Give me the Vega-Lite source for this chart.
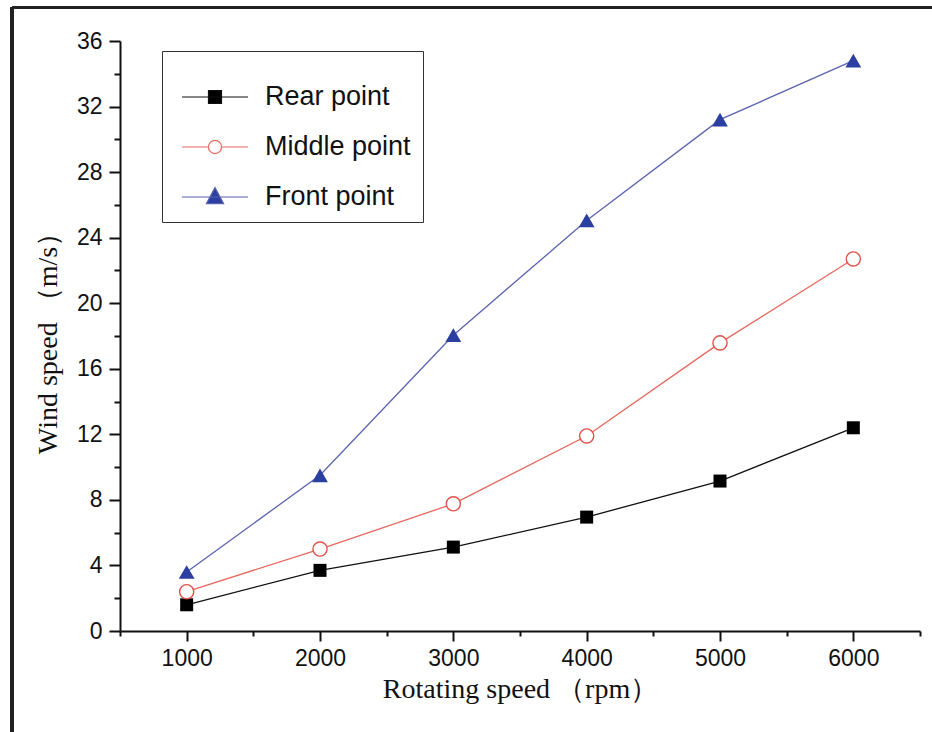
{
  "$schema": "https://vega.github.io/schema/vega-lite/v6.json",
  "width": 800,
  "height": 590,
  "autosize": {"type": "none"},
  "padding": {"left": 120, "top": 41, "right": 12, "bottom": 101},
  "background": "white",
  "config": {
    "view": {"stroke": null},
    "axis": {
      "grid": false,
      "domainColor": "#111111",
      "domainWidth": 2,
      "tickColor": "#111111",
      "tickWidth": 2,
      "labelFlush": false,
      "labelFont": "Liberation Sans",
      "labelFontSize": 23,
      "labelColor": "#111111",
      "titleFont": "Liberation Serif",
      "titleFontSize": 28,
      "titleFontWeight": "normal",
      "titleColor": "#111111"
    }
  },
  "resolve": {"axis": {"x": "independent", "y": "independent"}},
  "data": {
    "values": [
      {"series": "Rear point", "rpm": 1000, "speed": 1.6},
      {"series": "Rear point", "rpm": 2000, "speed": 3.7},
      {"series": "Rear point", "rpm": 3000, "speed": 5.12},
      {"series": "Rear point", "rpm": 4000, "speed": 6.95},
      {"series": "Rear point", "rpm": 5000, "speed": 9.15},
      {"series": "Rear point", "rpm": 6000, "speed": 12.4},
      {"series": "Middle point", "rpm": 1000, "speed": 2.4},
      {"series": "Middle point", "rpm": 2000, "speed": 5.0},
      {"series": "Middle point", "rpm": 3000, "speed": 7.76},
      {"series": "Middle point", "rpm": 4000, "speed": 11.9},
      {"series": "Middle point", "rpm": 5000, "speed": 17.58},
      {"series": "Middle point", "rpm": 6000, "speed": 22.7},
      {"series": "Front point", "rpm": 1000, "speed": 3.6},
      {"series": "Front point", "rpm": 2000, "speed": 9.5},
      {"series": "Front point", "rpm": 3000, "speed": 18.05},
      {"series": "Front point", "rpm": 4000, "speed": 25.05},
      {"series": "Front point", "rpm": 5000, "speed": 31.2},
      {"series": "Front point", "rpm": 6000, "speed": 34.8}
    ]
  },
  "layer": [
    {
      "mark": {"type": "line", "strokeWidth": 1.3},
      "encoding": {
        "x": {
          "field": "rpm",
          "type": "quantitative",
          "scale": {"domain": [500, 6500], "nice": false, "zero": false},
          "axis": {
            "orient": "bottom",
            "title": "Rotating speed （rpm）",
            "values": [1000, 2000, 3000, 4000, 5000, 6000],
            "format": "d",
            "tickSize": 10,
            "labelPadding": 6,
            "titlePadding": 5
          }
        },
        "y": {
          "field": "speed",
          "type": "quantitative",
          "scale": {"domain": [0, 36], "nice": false},
          "axis": {
            "orient": "left",
            "title": "Wind speed （m/s）",
            "values": [0, 4, 8, 12, 16, 20, 24, 28, 32, 36],
            "tickSize": 11,
            "labelPadding": 7,
            "titlePadding": 14
          }
        },
        "color": {
          "field": "series",
          "type": "nominal",
          "scale": {"domain": ["Rear point", "Middle point", "Front point"], "range": ["#111111", "#e8675d", "#5b63b0"]},
          "legend": {
            "title": null,
            "orient": "none",
            "legendX": 42,
            "legendY": 10,
            "strokeColor": "#333333",
            "fillColor": "white",
            "padding": 12,
            "symbolSize": 4356,
            "symbolStrokeWidth": 1.2,
            "symbolOpacity": 1,
            "symbolOffset": 7,
            "labelOffset": 16,
            "labelFont": "Liberation Sans",
            "labelFontSize": 27,
            "labelColor": "#111111",
            "labelLimit": 400,
            "rowPadding": 3
          }
        }
      }
    },
    {
      "transform": [{"filter": "datum.series === 'Rear point'"}],
      "mark": {"type": "point", "shape": "square", "filled": true, "color": "#000000", "size": 169, "opacity": 1},
      "encoding": {
        "x": {"field": "rpm", "type": "quantitative", "axis": null},
        "y": {"field": "speed", "type": "quantitative", "axis": null}
      }
    },
    {
      "transform": [{"filter": "datum.series === 'Middle point'"}],
      "mark": {"type": "point", "shape": "circle", "filled": false, "fill": "white", "stroke": "#e0524a", "strokeWidth": 1.4, "size": 200, "opacity": 1},
      "encoding": {
        "x": {"field": "rpm", "type": "quantitative", "axis": null},
        "y": {"field": "speed", "type": "quantitative", "axis": null}
      }
    },
    {
      "transform": [{"filter": "datum.series === 'Front point'"}],
      "mark": {"type": "point", "shape": "triangle-up", "filled": true, "color": "#2a3fa0", "size": 250, "opacity": 1},
      "encoding": {
        "x": {"field": "rpm", "type": "quantitative", "axis": null},
        "y": {"field": "speed", "type": "quantitative", "axis": null}
      }
    },
    {
      "mark": {"type": "point", "opacity": 0, "size": 10},
      "encoding": {
        "x": {
          "field": "rpm",
          "type": "quantitative",
          "axis": {
            "orient": "bottom",
            "title": null,
            "values": [500, 1500, 2500, 3500, 4500, 5500, 6500],
            "labels": false,
            "domain": false,
            "tickSize": 5
          }
        },
        "y": {
          "field": "speed",
          "type": "quantitative",
          "axis": {
            "orient": "left",
            "title": null,
            "values": [2, 6, 10, 14, 18, 22, 26, 30, 34],
            "labels": false,
            "domain": false,
            "tickSize": 6
          }
        },
        "shape": {
          "field": "series",
          "type": "nominal",
          "scale": {
            "domain": ["Rear point", "Middle point", "Front point"],
            "range": [
              "M-1,0H1M-0.197,-0.197H0.197V0.197H-0.197Z",
              "M-1,0H-0.2M0.2,0H1M-0.2,0A0.2,0.2,0,1,0,0.2,0A0.2,0.2,0,1,0,-0.2,0Z",
              "M-1,0H1M0,-0.29L0.26,0.2H-0.26Z"
            ]
          },
          "legend": {
            "title": null,
            "orient": "none",
            "legendX": 42,
            "legendY": 10,
            "strokeColor": "#333333",
            "fillColor": "white",
            "padding": 12,
            "symbolSize": 4356,
            "symbolStrokeWidth": 1.2,
            "symbolOpacity": 1,
            "symbolOffset": 7,
            "labelOffset": 16,
            "labelFont": "Liberation Sans",
            "labelFontSize": 27,
            "labelColor": "#111111",
            "labelLimit": 400,
            "rowPadding": 3
          }
        },
        "fill": {
          "field": "series",
          "type": "nominal",
          "scale": {"domain": ["Rear point", "Middle point", "Front point"], "range": ["#000000", "#ffffff", "#2a3fa0"]},
          "legend": {
            "title": null,
            "orient": "none",
            "legendX": 42,
            "legendY": 10,
            "strokeColor": "#333333",
            "fillColor": "white",
            "padding": 12,
            "symbolSize": 4356,
            "symbolStrokeWidth": 1.2,
            "symbolOpacity": 1,
            "symbolOffset": 7,
            "labelOffset": 16,
            "labelFont": "Liberation Sans",
            "labelFontSize": 27,
            "labelColor": "#111111",
            "labelLimit": 400,
            "rowPadding": 3
          }
        }
      }
    },
    {
      "mark": {"type": "rule", "clip": false, "color": "#222222", "strokeWidth": 2.5},
      "encoding": {
        "x": {"datum": -310, "type": "quantitative", "axis": null},
        "y": {"datum": -7, "type": "quantitative", "axis": null},
        "y2": {"datum": 38.05}
      }
    },
    {
      "mark": {"type": "rule", "clip": false, "color": "#222222", "strokeWidth": 2.5},
      "encoding": {
        "x": {"datum": -310, "type": "quantitative", "axis": null},
        "x2": {"datum": 6700},
        "y": {"datum": 38.05, "type": "quantitative", "axis": null}
      }
    }
  ]
}
